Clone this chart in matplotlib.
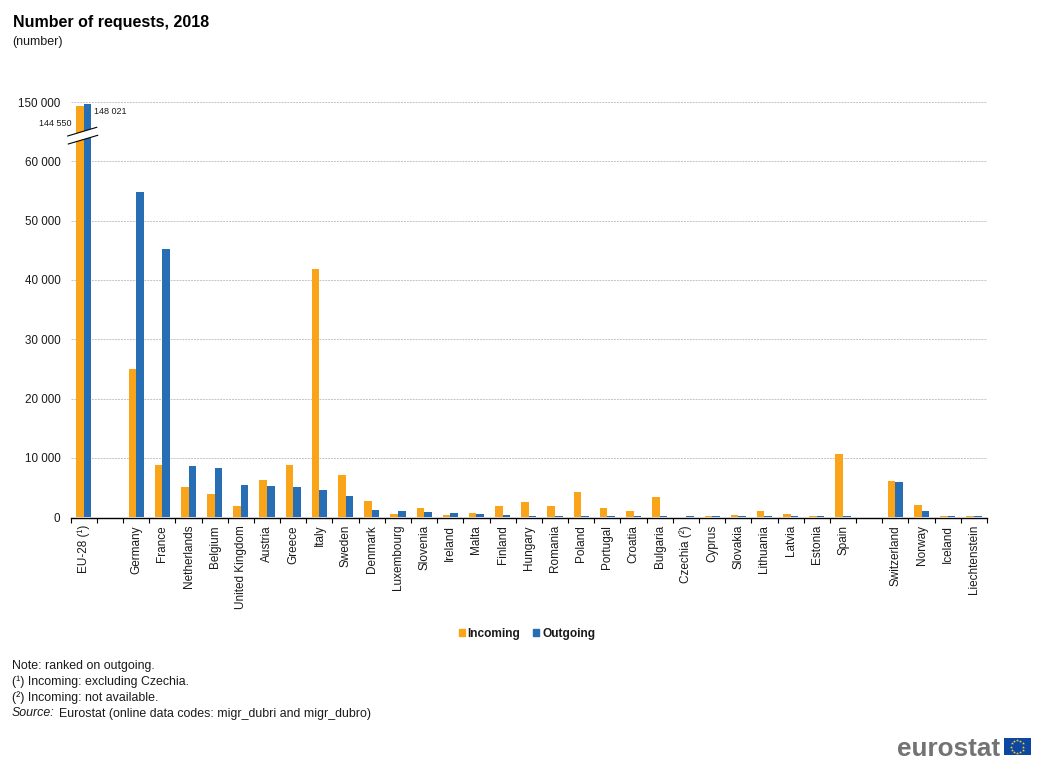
import numpy as np
import matplotlib
matplotlib.use("Agg")
import matplotlib.pyplot as plt
from matplotlib.lines import Line2D
from matplotlib.patches import Patch, Polygon, Rectangle

plt.rcParams["font.family"] = ["Liberation Sans", "DejaVu Sans"]

# Data
countries = ["EU-28 (¹)", "", "Germany", "France", "Netherlands", "Belgium", "United Kingdom",
             "Austria", "Greece", "Italy", "Sweden", "Denmark", "Luxembourg", "Slovenia",
             "Ireland", "Malta", "Finland", "Hungary", "Romania", "Poland", "Portugal",
             "Croatia", "Bulgaria", "Czechia (²)", "Cyprus", "Slovakia", "Lithuania", "Latvia",
             "Estonia", "Spain", "", "Switzerland", "Norway", "Iceland", "Liechtenstein"]
incoming = [144550, np.nan, 25000, 8850, 5130, 3940, 1920, 6310, 8850, 41900, 7150, 2760, 560,
            1580, 390, 730, 1920, 2590, 1920, 4280, 1580, 1070, 3440, np.nan, 230, 390, 1070,
            560, 200, 10700, np.nan, 6140, 2090, 200, 200]
outgoing = [148021, np.nan, 54900, 45300, 8680, 8340, 5470, 5300, 5130, 4620, 3600, 1240, 1070,
            900, 730, 560, 390, 230, 230, 230, 230, 230, 200, 200, 200, 200, 190, 190, 190,
            180, np.nan, 5970, 1070, 180, 170]
y_ticks = [0, 10000, 20000, 30000, 40000, 50000, 60000, 150000]
notes = ["Note: ranked on outgoing.", "(¹) Incoming: excluding Czechia.", "(²) Incoming: not available."]

W, H = 1048, 774
ORANGE = "#FAA519"
BLUE = "#286EB4"
TEXT = "#1a1a1a"
SQUEEZE = 0.1105  # the part above 60 000 is squashed, axis is broken there


def forward(v):
    v = np.asarray(v, dtype=float)
    return np.where(v <= 60000, v, 60000 + (v - 60000) * SQUEEZE)


def inverse(v):
    v = np.asarray(v, dtype=float)
    return np.where(v <= 60000, v, 60000 + (v - 60000) / SQUEEZE)


def fx(x):
    return x / W


def fy(y):
    return 1 - y / H


def main():
    fig = plt.figure(figsize=(W / 100, H / 100), dpi=100)
    ax = fig.add_axes([fx(70.7), fy(517.3), fx(987 - 70.7), (517.3 - 102.3) / H])

    pos = np.arange(len(countries))
    bar_w = 0.29
    ax.bar(pos - bar_w / 2, incoming, bar_w, color=ORANGE, zorder=3)
    ax.bar(pos + bar_w / 2, outgoing, bar_w, color=BLUE, zorder=3)

    ax.set_yscale("function", functions=(forward, inverse))
    ax.set_ylim(0, 150000)
    ax.set_xlim(-0.5, len(countries) - 0.5)
    ax.set_yticks(y_ticks)
    ax.set_yticklabels([f"{t:,}".replace(",", " ") for t in y_ticks], fontsize=8.4, color=TEXT)
    ax.minorticks_off()
    ax.tick_params(axis="y", length=0, pad=7.5)
    ax.grid(axis="y", color="#c4c4c4", lw=0.7, ls=(0, (2, 1)), zorder=0)
    ax.set_axisbelow(True)

    # ticks sit between the categories, labels in the middle
    ax.set_xticks(np.arange(-0.5, len(countries)))
    ax.set_xticklabels([])
    ax.tick_params(axis="x", length=3.5, width=0.8, color="black")
    for i, name in enumerate(countries):
        fig.text(fx(70.7 + (i + 0.5) * 916.3 / len(countries)), fy(525), name, rotation=90,
                 ha="center", va="top", fontsize=8.5, color=TEXT)

    for side in ["top", "right", "left"]:
        ax.spines[side].set_visible(False)
    ax.spines["bottom"].set_linewidth(1.0)
    ax.spines["bottom"].set_position(("outward", 0.7))

    # axis break
    fig.add_artist(Polygon([(fx(67.7), fy(136)), (fx(96.7), fy(127.3)), (fx(97.7), fy(135.3)), (fx(68.3), fy(144))],
                           closed=True, color="white", lw=0, transform=fig.transFigure, zorder=5))
    fig.add_artist(Line2D([fx(67.7), fx(96.7)], [fy(136), fy(127.3)], color="black", lw=0.8, zorder=6))
    fig.add_artist(Line2D([fx(68.3), fx(97.7)], [fy(144), fy(135.3)], color="black", lw=0.8, zorder=6))

    fig.text(fx(71.5), fy(124), "144 550", ha="right", va="center", fontsize=6.5, color=TEXT, zorder=7)
    fig.text(fx(94), fy(112), "148 021", ha="left", va="center", fontsize=6.5, color=TEXT, zorder=7)

    # Titles
    fig.text(fx(13), fy(27), "Number of requests, 2018", fontsize=11.5, fontweight="bold", color="black")
    fig.text(fx(12), fy(45), "(number)", fontsize=9, color=TEXT)

    # Legend
    handles = [Patch(color=ORANGE, label="Incoming"), Patch(color=BLUE, label="Outgoing")]
    fig.legend(handles=handles, loc="center", bbox_to_anchor=(fx(527), fy(633.5)), ncol=2, frameon=False,
               handlelength=0.5, handleheight=0.5, handletextpad=0.25, columnspacing=1.05,
               prop={"weight": "bold", "size": 8.6}, labelcolor=TEXT)

    # Notes
    for i, note in enumerate(notes):
        fig.text(fx(12), fy(668.5 + i * 16), note, fontsize=8.9, color=TEXT)
    fig.text(fx(12), fy(716.5), "Source:", fontsize=8.9, style="italic", color=TEXT)
    fig.text(fx(59), fy(716.5), "Eurostat (online data codes: migr_dubri and migr_dubro)", fontsize=8.9,
             color=TEXT)

    # Logo
    fig.text(fx(897), fy(755.5), "eurostat", fontsize=18.8, fontweight="bold", color="#737373", ha="left")
    fig.add_artist(Rectangle((fx(1004), fy(755)), 26.5 / W, 17 / H, color="#0E47A1", lw=0,
                             transform=fig.transFigure))
    angles = np.arange(12) * np.pi / 6
    fig.add_artist(Line2D(fx(1017.2 + 6.2 * np.cos(angles)), fy(746.5 + 6.2 * np.sin(angles)), ls="none",
                          marker="*", ms=2.2, color="#F5D327", mew=0))

    fig.savefig("out.png", dpi=100)
    plt.close(fig)


if __name__ == "__main__":
    main()
